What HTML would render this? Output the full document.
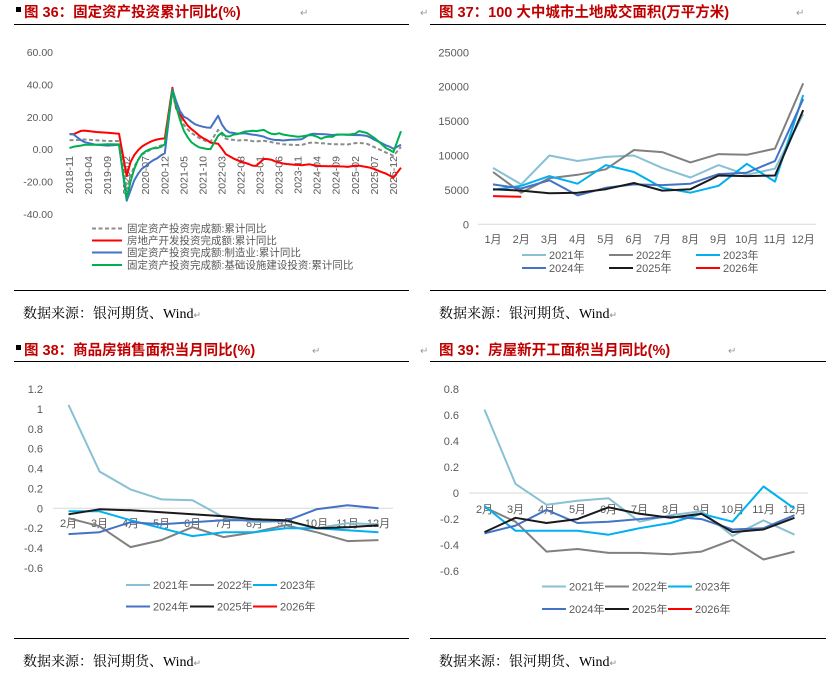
<!DOCTYPE html>
<html><head><meta charset="utf-8">
<style>
body{margin:0;background:#fff;}
svg{display:block;font-family:"Liberation Sans","Noto Sans CJK SC",sans-serif;}
.tk{font-size:10.5px;fill:#595959;}
.tk2{font-size:11px;fill:#595959;}
.ttl{font-size:14.5px;font-weight:bold;fill:#C00000;font-family:"Liberation Sans","Noto Sans CJK SC",sans-serif;}
.src{font-size:14px;fill:#000;font-family:"Liberation Serif","Noto Serif CJK SC",serif;}
.rt{font-size:10px;fill:#999;}
</style></head><body>
<svg id="s" width="833" height="676" viewBox="0 0 833 676" xmlns="http://www.w3.org/2000/svg">
<g>
<rect x="16" y="7" width="5" height="5" fill="#000"/>
<text class="ttl" x="24" y="17">图 36：固定资产投资累计同比(%)</text>
<text class="rt" x="300" y="16">↵</text>
<line x1="14" y1="24.5" x2="409" y2="24.5" stroke="#000"/>
<text class="rt" x="420" y="16">↵</text>
<text class="ttl" x="439" y="17">图 37：100 大中城市土地成交面积(万平方米)</text>
<text class="rt" x="796" y="16">↵</text>
<line x1="430" y1="24.5" x2="826" y2="24.5" stroke="#000"/>
<line x1="14" y1="290.5" x2="409" y2="290.5" stroke="#000"/>
<line x1="430" y1="290.5" x2="826" y2="290.5" stroke="#000"/>
<text class="src" x="23" y="318">数据来源：银河期货、Wind<tspan font-size="9" fill="#888">↵</tspan></text>
<text class="src" x="439" y="318">数据来源：银河期货、Wind<tspan font-size="9" fill="#888">↵</tspan></text>
<rect x="16" y="345" width="5" height="5" fill="#000"/>
<text class="ttl" x="24" y="355">图 38：商品房销售面积当月同比(%)</text>
<text class="rt" x="312" y="354">↵</text>
<line x1="14" y1="361.5" x2="409" y2="361.5" stroke="#000"/>
<text class="rt" x="420" y="354">↵</text>
<text class="ttl" x="439" y="355">图 39：房屋新开工面积当月同比(%)</text>
<text class="rt" x="728" y="354">↵</text>
<line x1="430" y1="361.5" x2="826" y2="361.5" stroke="#000"/>
<line x1="14" y1="638.5" x2="409" y2="638.5" stroke="#000"/>
<line x1="430" y1="638.5" x2="826" y2="638.5" stroke="#000"/>
<text class="src" x="23" y="666">数据来源：银河期货、Wind<tspan font-size="9" fill="#888">↵</tspan></text>
<text class="src" x="439" y="666">数据来源：银河期货、Wind<tspan font-size="9" fill="#888">↵</tspan></text>
</g>
</svg>
<script>
// ---------- Chart 36 data ----------
const c36Months = [0,1,3,4,7,10,13, 15,16,17,18,19,20,21,22,23,24,25, 27,28,29,30,31,32,33,34,35,36,37, 39,40,41,42,43,44,45,46,47,48,49, 51,52,53,54,55,56,57,58,59,60,61, 63,64,65,66,67,68,69,70,71,72,73, 75,76,77,78,79,80,81,82,83,84,85, 87];
const c36Ticks = ["2018-11","2019-04","2019-09","2020-02","2020-07","2020-12","2021-05","2021-10","2022-03","2022-08","2023-01","2023-06","2023-11","2024-04","2024-09","2025-02","2025-07","2025-12"];
const c36YTicks = [60,40,20,0,-20,-40];
const c36Total = [5.9,5.9,6.1,6.3,5.8,5.4,5.4, -24.5,-16.1,-10.3,-6.3,-3.1,-1.6,-0.3,0.8,1.8,2.6,2.9, 35.0,25.6,19.9,15.4,12.6,10.3,8.9,7.3,6.1,5.2,4.9, 12.2,9.3,6.8,6.2,6.1,5.7,5.8,5.9,5.8,5.3,5.1, 5.5,5.1,4.7,4.0,3.8,3.4,3.2,3.1,2.9,2.9,3.0, 4.2,4.5,4.2,4.0,3.9,3.6,3.4,3.4,3.4,3.3,3.2, 4.1,4.2,4.0,3.7,2.8,1.6,0.5,-0.5,-1.7,-2.6,-3.8, 1.8];
const c36RealEstate = [9.7,9.5,11.6,11.8,10.9,10.5,9.9, -16.3,-7.7,-3.3,-0.3,1.9,3.4,4.6,5.6,6.3,6.8,7.0, 38.3,25.6,21.6,18.3,15.0,12.7,10.9,8.8,7.2,6.0,4.4, 3.7,0.7,-2.7,-4.0,-5.4,-6.4,-7.4,-8.0,-8.8,-9.8,-10.0, -5.7,-5.8,-6.2,-7.2,-7.9,-8.5,-8.8,-9.1,-9.3,-9.4,-9.6, -9.0,-9.5,-9.8,-10.1,-10.1,-10.2,-10.2,-10.1,-10.3,-10.4,-10.6, -9.8,-9.9,-10.3,-10.7,-11.2,-12.0,-12.9,-13.9,-14.7,-15.9,-17.2, -11.1];
const c36Manufacturing = [9.5,9.5,5.9,4.6,3.0,2.5,3.1, -31.5,-25.2,-18.8,-14.8,-11.7,-10.2,-8.1,-6.5,-5.3,-3.5,-2.2, 37.3,29.8,23.8,20.4,19.2,17.3,15.7,14.8,14.2,13.7,13.5, 20.9,15.6,12.2,10.6,10.4,9.9,10.0,10.1,9.7,9.3,9.1, 8.1,7.0,6.4,6.0,6.0,5.7,5.9,6.2,6.2,6.3,6.5, 9.4,9.9,9.7,9.6,9.5,9.3,9.1,9.2,9.3,9.3,9.2, 9.0,9.1,8.8,8.5,7.5,6.2,5.1,4.0,2.7,1.9,0.6, 3.1];
const c36Infra = [1.0,1.8,2.5,3.0,3.0,3.4,3.3, -30.3,-19.7,-11.8,-6.3,-2.7,-1.0,0.2,0.9,1.0,1.7,3.4, 36.6,26.8,18.4,11.8,7.8,4.6,2.9,1.5,1.0,0.5,0.4, 8.6,10.5,8.3,8.2,9.3,9.6,10.4,11.2,11.4,11.7,11.5, 12.2,10.8,9.8,9.5,10.2,9.4,9.0,8.6,8.3,8.0,8.2, 9.0,8.8,8.0,6.7,7.7,8.1,7.9,9.3,9.4,9.4,9.2, 9.9,11.5,10.9,10.4,8.9,7.3,5.4,3.3,1.1,-0.1,-1.5, 11.4];
// ---------- Chart 37 data ----------
const c37Cats = ["1月","2月","3月","4月","5月","6月","7月","8月","9月","10月","11月","12月"];
const c37YTicks = [25000,20000,15000,10000,5000,0];
const c37Y2021 = [8200,5800,10000,9200,9800,10000,8200,6800,8600,7200,8100,16000];
const c37Y2022 = [7600,4600,6700,7200,8000,10800,10500,9000,10200,10100,11000,20500];
const c37Y2023 = [5000,5600,7000,5900,8600,7600,5300,4600,5600,8800,6200,18800];
const c37Y2024 = [5800,5200,6400,4200,5300,5800,5700,5900,7300,7500,9200,18200];
const c37Y2025 = [5100,4900,4500,4600,5100,6000,4900,5100,7100,7000,7100,16600];
const c37Y2026 = [4100,4000];
// ---------- Chart 38 data ----------
const c38Cats = ["2月","3月","4月","5月","6月","7月","8月","9月","10月","11月","12月"];
const c38YTicks = [1.2,1,0.8,0.6,0.4,0.2,0,-0.2,-0.4,-0.6];
const c38Y2021 = [1.04,0.37,0.19,0.09,0.08,-0.09,-0.14,-0.13,-0.20,-0.15,-0.16];
const c38Y2022 = [-0.10,-0.18,-0.39,-0.32,-0.19,-0.29,-0.24,-0.17,-0.24,-0.33,-0.32];
const c38Y2023 = [-0.03,-0.03,-0.12,-0.20,-0.28,-0.24,-0.24,-0.20,-0.20,-0.22,-0.24];
const c38Y2024 = [-0.26,-0.24,-0.14,-0.16,-0.14,-0.12,-0.12,-0.13,-0.01,0.03,0.00];
const c38Y2025 = [-0.06,-0.01,-0.02,-0.04,-0.06,-0.08,-0.11,-0.12,-0.20,-0.19,-0.17];
// ---------- Chart 39 data ----------
const c39Cats = ["2月","3月","4月","5月","6月","7月","8月","9月","10月","11月","12月"];
const c39YTicks = [0.8,0.6,0.4,0.2,0,-0.2,-0.4,-0.6];
const c39Y2021 = [0.64,0.07,-0.09,-0.06,-0.04,-0.22,-0.17,-0.14,-0.33,-0.21,-0.32];
const c39Y2022 = [-0.11,-0.22,-0.45,-0.43,-0.46,-0.46,-0.47,-0.45,-0.36,-0.51,-0.45];
const c39Y2023 = [-0.10,-0.29,-0.29,-0.29,-0.32,-0.27,-0.23,-0.16,-0.22,0.05,-0.12];
const c39Y2024 = [-0.31,-0.25,-0.13,-0.23,-0.22,-0.20,-0.18,-0.20,-0.28,-0.27,-0.17];
const c39Y2025 = [-0.30,-0.19,-0.23,-0.20,-0.11,-0.16,-0.19,-0.16,-0.30,-0.28,-0.19];

const NS="http://www.w3.org/2000/svg";
const svg=document.getElementById('s');
function mk(tag,parent){const e=document.createElementNS(NS,tag);parent.appendChild(e);return e;}
function poly(g,xs,ys,color,w,dash){
  const p=mk('polyline',g);
  p.setAttribute('points',xs.map((x,i)=>x.toFixed(1)+','+ys[i].toFixed(1)).join(' '));
  p.setAttribute('fill','none');p.setAttribute('stroke',color);p.setAttribute('stroke-width',w);
  p.setAttribute('stroke-linejoin','round');
  if(dash)p.setAttribute('stroke-dasharray',dash);
  return p;
}
function txt(g,x,y,s,anchor,cls){const t=mk('text',g);t.setAttribute('x',x);t.setAttribute('y',y);t.setAttribute('class',cls||'tk');if(anchor)t.setAttribute('text-anchor',anchor);t.textContent=s;return t;}
const C21='#88C0D4',C22='#808080',C23='#00B0F0',C24='#4472C4',C25='#1a1a1a',C26='#FF0000';

// ===== Chart 36 =====
(function(){
  const g=mk('g',svg);
  
  
  const xS=m=>69.5+m*3.81, yS=v=>149.7-v*1.62;
  c36YTicks.forEach(v=>{const t=txt(g,53,yS(v)+3.5,v.toFixed(2),'end');
    
    });
  c36Ticks.forEach((s,i)=>{const x=xS(i*5)+3.5;const t=txt(g,x,156,s,'end');
    t.setAttribute('transform','rotate(-90 '+x+' 156)');
    
    });
  const xs=c36Months.map(xS);
  const series=[[c36Total,'#8C8C8C',2,'4,2.5','total-fai-line'],[c36RealEstate,'#FF0000',2,null,'real-estate-line'],[c36Manufacturing,'#4472C4',2,null,'manufacturing-line'],[c36Infra,'#00B050',2,null,'infrastructure-line']];
  series.forEach(s=>{const p=poly(g,xs,s[0].map(yS),s[1],s[2],s[3]);
    
    });
  const leg=['固定资产投资完成额:累计同比','房地产开发投资完成额:累计同比','固定资产投资完成额:制造业:累计同比','固定资产投资完成额:基础设施建设投资:累计同比'];
  const ly=[228.5,240.5,252.5,265];
  leg.forEach((s,i)=>{const lg=mk('g',g);
    
    
    const l=mk('line',lg);l.setAttribute('x1',92);l.setAttribute('x2',122);l.setAttribute('y1',ly[i]);l.setAttribute('y2',ly[i]);
    l.setAttribute('stroke',series[i][1]);l.setAttribute('stroke-width',2);if(series[i][3])l.setAttribute('stroke-dasharray','4,2.5');
    txt(lg,127,ly[i]+3.5,s,'start');});
})();

// ===== generic yearly chart =====
function yearly(cfg){
  const g=mk('g',svg);
  
  
  const xS=i=>cfg.x0+i*cfg.step, yS=v=>cfg.y0-v*cfg.k;
  const base=mk('line',g);base.setAttribute('x1',cfg.ax1);base.setAttribute('x2',cfg.ax2);
  base.setAttribute('y1',yS(0));base.setAttribute('y2',yS(0));base.setAttribute('stroke','#D9D9D9');base.setAttribute('stroke-width',1);
  cfg.yt.forEach(v=>{const t=txt(g,cfg.ylx,yS(v)+4,String(v),'end','tk2');
    
    });
  cfg.cats.forEach((s,i)=>{const t=txt(g,xS(i),cfg.catY,s,'middle','tk2');
    
    });
  const cols=[C21,C22,C23,C24,C25,C26],names=['2021年','2022年','2023年','2024年','2025年','2026年'];
  cfg.data.forEach((d,j)=>{ if(!d.length)return;
    const p=poly(g,d.map((v,i)=>xS(i)),d.map(yS),cols[j],2);
    
    });
  names.forEach((s,j)=>{const lg=mk('g',g);
    
    
    const col=j%3,row=Math.floor(j/3);
    const lx=cfg.lx[col],y=cfg.ly[row];
    const l=mk('line',lg);l.setAttribute('x1',lx);l.setAttribute('x2',lx+cfg.lw);l.setAttribute('y1',y);l.setAttribute('y2',y);
    l.setAttribute('stroke',cols[j]);l.setAttribute('stroke-width',2);
    txt(lg,lx+cfg.lw+3,y+4,s,'start','tk2');});
}
yearly({name:'chart37-land-area',x0:493,step:28.2,y0:224.3,k:172/25000,ax1:478,ax2:816,yt:c37YTicks,ylx:469,cats:c37Cats,catY:243,
  data:[c37Y2021,c37Y2022,c37Y2023,c37Y2024,c37Y2025,c37Y2026],lx:[522,609,696],lw:24,ly:[255,268]});
yearly({name:'chart38-sales-area',x0:68.5,step:31,y0:508.3,k:99.4,ax1:53,ax2:393,yt:c38YTicks,ylx:43,cats:c38Cats,catY:527,
  data:[c38Y2021,c38Y2022,c38Y2023,c38Y2024,c38Y2025,[]],lx:[126,190,253],lw:24,ly:[585,606.5]});
yearly({name:'chart39-new-starts',x0:484.5,step:31,y0:493,k:130.3,ax1:469,ax2:808,yt:c39YTicks,ylx:459,cats:c39Cats,catY:513,
  data:[c39Y2021,c39Y2022,c39Y2023,c39Y2024,c39Y2025,[]],lx:[542,605,668],lw:24,ly:[586.5,609]});
</script>
</body></html>
